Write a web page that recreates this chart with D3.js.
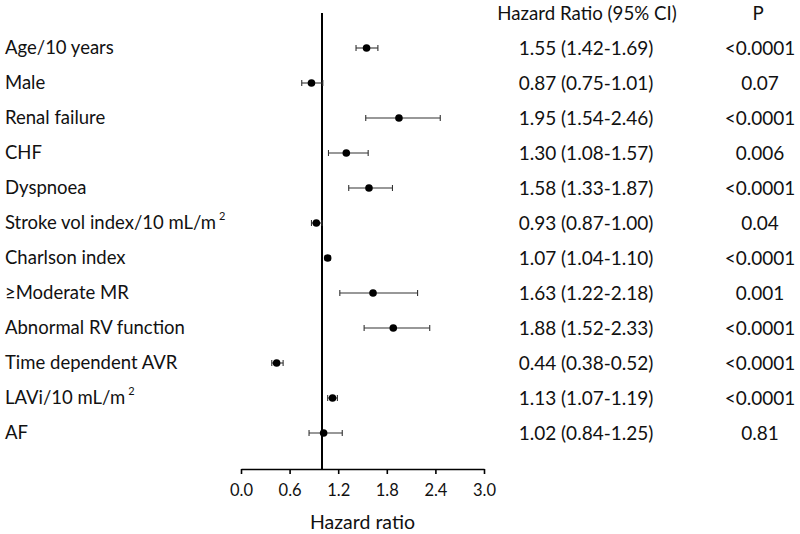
<!DOCTYPE html>
<html><head><meta charset="utf-8">
<script src="https://cdn.jsdelivr.net/npm/d3@7/dist/d3.min.js"></script>
<style>body{margin:0;background:#fff}svg{display:block}text{font-family:Lato,"Open Sans",sans-serif;fill:#111}</style>
</head><body><svg id="c" width="800" height="534"></svg>
<script>
const labels = ["Age/10 years","Male","Renal failure","CHF","Dyspnoea","Stroke vol index/10 mL/m|2","Charlson index","≥Moderate MR","Abnormal RV function","Time dependent AVR","LAVi/10 mL/m|2","AF"];
const hr =    [1.55,0.87,1.95,1.30,1.58,0.93,1.07,1.63,1.88,0.44,1.13,1.02];
const lower = [1.42,0.75,1.54,1.08,1.33,0.87,1.04,1.22,1.52,0.38,1.07,0.84];
const upper = [1.69,1.01,2.46,1.57,1.87,1.00,1.10,2.18,2.33,0.52,1.19,1.25];
const pvals = ["<0.0001","0.07","<0.0001","0.006","<0.0001","0.04","<0.0001","0.001","<0.0001","<0.0001","<0.0001","0.81"];
const xTicks = [0.0,0.6,1.2,1.8,2.4,3.0];

const svg = d3.select("#c");
const x = d3.scaleLinear().domain([0,3]).range([241,484]);
const y = d3.scalePoint().domain(d3.range(labels.length)).range([48,433]);
const fs = 18.5, ft = 19;

// row labels
labels.forEach((l,i)=>{
  const t = svg.append("text").attr("x",5).attr("y",y(i)).attr("dy","0.35em").attr("font-size",fs);
  const parts = l.split("|");
  t.append("tspan").text(parts[0]);
  if(parts[1]) t.append("tspan").attr("font-size",11).attr("dy","-0.9em").attr("dx","3").text(parts[1]);
});

// reference line at 1
svg.append("line").attr("x1",x(1)).attr("x2",x(1)).attr("y1",13).attr("y2",469).attr("stroke","#000").attr("stroke-width",2);

// axis
const ax = svg.append("g").attr("transform","translate(0,469)")
  .call(d3.axisBottom(x).tickValues(xTicks).tickFormat(d3.format(".1f")).tickSize(5).tickSizeOuter(0).tickPadding(10));
ax.select(".domain").attr("stroke","#000").attr("stroke-width",1.6);
ax.selectAll(".tick line").attr("stroke","#000").attr("stroke-width",1.6);
ax.selectAll(".tick text").attr("font-size",16.5).attr("font-family","Lato,sans-serif").attr("fill","#222");
svg.append("text").attr("x",x(1.5)).attr("y",522).attr("dy","0.35em").attr("text-anchor","middle").attr("font-size",19.5).text("Hazard ratio");

// error bars
const g = svg.append("g");
hr.forEach((v,i)=>{
  const yy = y(i);
  g.append("line").attr("x1",x(lower[i])).attr("x2",x(upper[i])).attr("y1",yy).attr("y2",yy).attr("stroke","#333").attr("stroke-width",1.1);
  [lower[i],upper[i]].forEach(e=>g.append("line").attr("x1",x(e)).attr("x2",x(e)).attr("y1",yy-3).attr("y2",yy+3).attr("stroke","#333").attr("stroke-width",1.1));
  g.append("circle").attr("cx",x(v)).attr("cy",yy).attr("r",3.8).attr("fill","#000");
});

// table
svg.append("text").attr("x",587).attr("y",13).attr("dy","0.35em").attr("text-anchor","middle").attr("font-size",18.7).text("Hazard Ratio (95% CI)");
svg.append("text").attr("x",758).attr("y",13).attr("dy","0.35em").attr("text-anchor","middle").attr("font-size",18.7).text("P");
const f2 = d3.format(".2f");
hr.forEach((v,i)=>{
  svg.append("text").attr("x",586).attr("y",y(i)).attr("dy","0.35em").attr("text-anchor","middle").attr("font-size",ft)
    .text(`${f2(v)} (${f2(lower[i])}-${f2(upper[i])})`);
  svg.append("text").attr("x",760).attr("y",y(i)).attr("dy","0.35em").attr("text-anchor","middle").attr("font-size",ft).text(pvals[i]);
});
</script></body></html>
